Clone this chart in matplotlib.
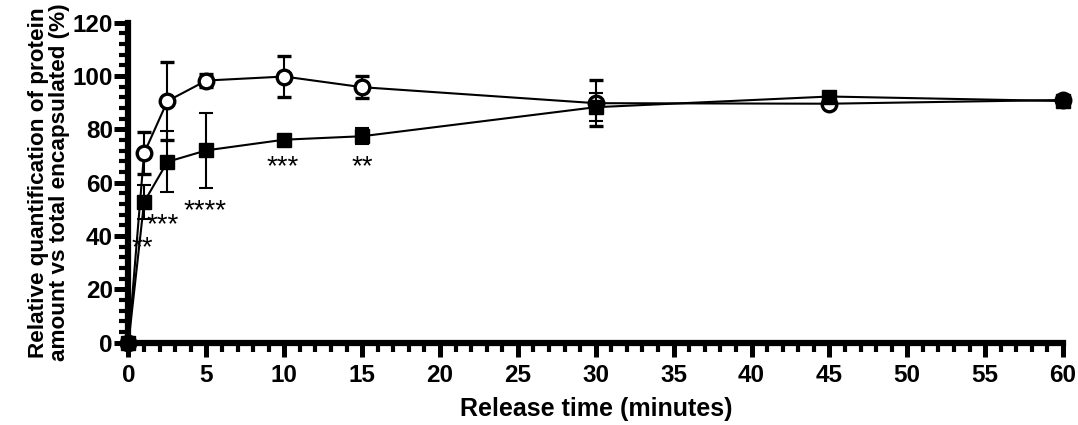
import matplotlib
matplotlib.use("Agg")
import matplotlib.pyplot as plt
from matplotlib.ticker import MultipleLocator

plt.rcParams['font.family'] = ['Liberation Sans', 'DejaVu Sans']
plt.rcParams['font.weight'] = 'bold'

time_min = [0, 1, 2.5, 5, 10, 15, 30, 45, 60]
open_mean = [0, 71.0, 90.6, 98.3, 99.8, 95.8, 89.8, 89.6, 91.0]
open_err = [0, 7.8, 14.8, 2.5, 7.6, 4.2, 8.6, 0, 0]
filled_mean = [0, 52.7, 67.8, 72.1, 76.1, 77.4, 88.3, 92.3, 90.6]
filled_err = [0, 6.5, 11.5, 14.0, 1.5, 2.9, 5.3, 0, 0]

sig_labels = ["**", "***", "****", "***", "**"]
sig_x = [0.9, 2.2, 4.9, 9.9, 15.0]
sig_y = [37, 45.7, 50.7, 67.4, 67.4]

x_ticks = list(range(0, 61, 5))
y_ticks = list(range(0, 121, 20))

fig = plt.figure(figsize=(10.78, 4.25), dpi=100)
ax = fig.add_axes([0.1192, 0.1941, 0.8669, 0.7525])

ax.errorbar(time_min, open_mean, yerr=open_err, fmt='-o', color='black',
            mfc='white', mec='black', mew=2.4, ms=10.5, lw=1.5, elinewidth=1.5,
            capsize=4.7, capthick=1.5, clip_on=False, zorder=3)
ax.errorbar(time_min, filled_mean, yerr=filled_err, fmt='-s', color='black',
            mfc='black', mec='black', ms=9.5, lw=1.5, elinewidth=1.5,
            capsize=4.7, capthick=1.5, clip_on=False, zorder=4)

for lab, xx, yy in zip(sig_labels, sig_x, sig_y):
    ax.annotate(lab, (xx, yy), xytext=(0, -4), textcoords='offset pixels',
                ha='center', va='center', fontsize=20, fontweight='normal',
                family=['Liberation Sans', 'DejaVu Sans'])

ax.set_xlim(0, 60)
ax.set_ylim(0, 120)
ax.set_xticks(x_ticks)
ax.set_yticks(y_ticks)
ax.xaxis.set_minor_locator(MultipleLocator(1))
ax.yaxis.set_minor_locator(MultipleLocator(4))

for s in ['top', 'right']:
    ax.spines[s].set_visible(False)
for s in ['left', 'bottom']:
    ax.spines[s].set_linewidth(4.5)
    ax.spines[s].set_capstyle('projecting')

ax.tick_params(axis='both', which='major', length=9.8, width=3.6, labelsize=17.5)
ax.tick_params(axis='both', which='minor', length=6.3, width=3.0)
ax.tick_params(axis='x', which='major', pad=6)
ax.tick_params(axis='y', which='major', pad=1.5)
for lab in ax.get_xticklabels() + ax.get_yticklabels():
    lab.set_fontweight('bold')

ax.set_xlabel('Release time (minutes)', fontsize=18, fontweight='bold', labelpad=7)
ax.set_ylabel('Relative quantification of protein\namount vs total encapsulated (%)',
              fontsize=16.2, fontweight='bold', linespacing=1.0, labelpad=2)

fig.savefig('out.png', dpi=100)
